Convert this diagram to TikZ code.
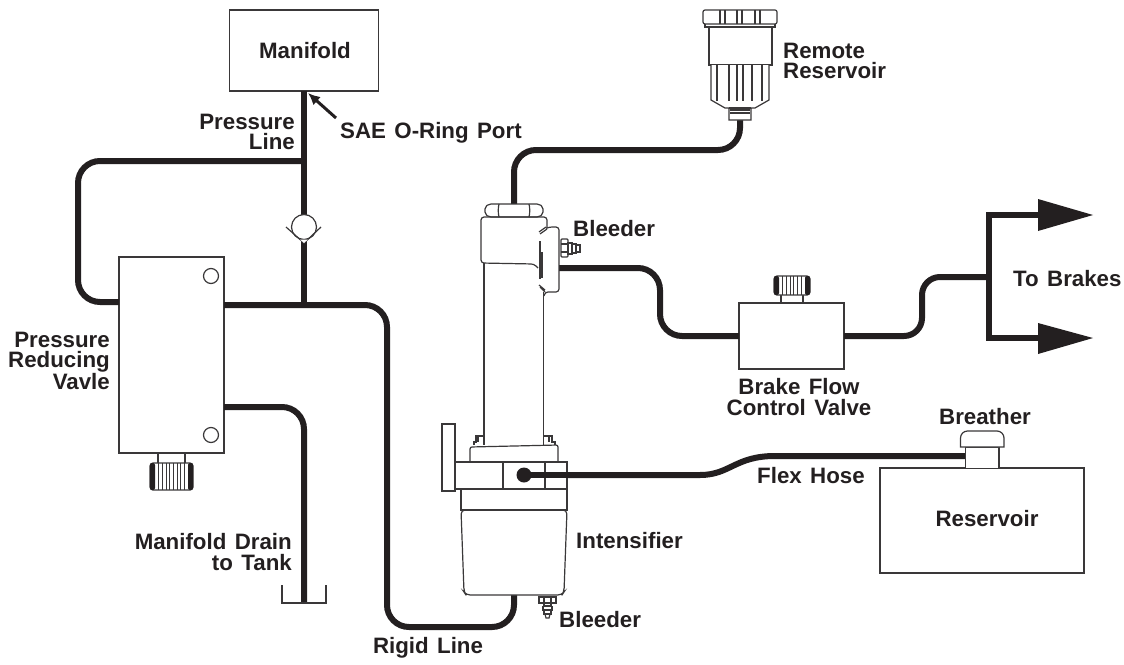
\documentclass[tikz,border=0pt]{standalone}
\usepackage{fontspec}
\setmainfont[WordSpace=1.35]{Liberation Sans}
\usetikzlibrary{arrows.meta}
\definecolor{ink}{HTML}{231F20}
\definecolor{thin}{HTML}{3A3839}
\tikzset{
  part/.style={draw=thin,line width=1.3pt,fill=white,inner sep=0pt,rectangle},
  thinl/.style={draw=thin,line width=1.2pt},
  pipe/.style={draw=ink,line width=6pt,line cap=butt,line join=miter},
  lab/.style={font=\fontsize{22.3}{20.5}\selectfont\bfseries,text=ink,inner sep=0pt},
  headarrow/.style={fill=ink,draw=none},
}
\newcommand{\knurl}[5]{% x0 x1 y0 y1 number of ribs
  \draw[thinl,rounded corners=3pt,fill=white] (#1,#3) rectangle (#2,#4);
  \fill[ink,rounded corners=2pt] (#1,#3) rectangle ({#1+5},#4);
  \fill[ink,rounded corners=2pt] ({#2-5},#3) rectangle (#2,#4);
  \foreach \k in {1,...,#5}{
    \draw[draw=thin,line width=1pt] ({#1+5+(#2-#1-10)*\k/(#5+1)},#3) -- ({#1+5+(#2-#1-10)*\k/(#5+1)},#4);
  }
}
\begin{document}
\begin{tikzpicture}[x=1pt,y=-1pt]
\useasboundingbox (0,0) rectangle (1124,664);
% ---------- coordinates for pipe ends
\coordinate (mport) at (304,91);
\coordinate (jct) at (304,305);
\coordinate (jcl) at (304,161);
\coordinate (loopa) at (78,161);
\coordinate (loopb) at (78,302);
\coordinate (vL) at (119,302);
\coordinate (vR) at (224,305);
\coordinate (vD) at (224,407);
\coordinate (rigA) at (387,305);
\coordinate (rigB) at (387,627);
\coordinate (rigC) at (514,627);
\coordinate (rigD) at (514,595);
\coordinate (drA) at (304,407);
\coordinate (drB) at (304,603);
\coordinate (topA) at (514,204);
\coordinate (topB) at (514,150);
\coordinate (topC) at (740,150);
\coordinate (topD) at (740,120);
\coordinate (blA) at (559,268);
\coordinate (blB) at (660,268);
\coordinate (blC) at (660,336);
\coordinate (blD) at (739,336);
\coordinate (brA) at (844,336);
\coordinate (brB) at (922,336);
\coordinate (brC) at (922,277);
\coordinate (brD) at (989,277);
\coordinate (upA) at (989,215);
\coordinate (loA) at (989,338);
\coordinate (upH) at (1040,215);
\coordinate (loH) at (1040,338);
\coordinate (hoseA) at (524,475);
\coordinate (hoseB) at (966,456);
% ---------- boxes
\node[part,minimum width=148.5pt,minimum height=81pt] (manifold) at (304,50.5) {};
\node[part,minimum width=105pt,minimum height=196pt] (valve) at (171.5,355) {};
\node[part,minimum width=105pt,minimum height=66pt] (brake) at (791.5,336) {};
\node[part,minimum width=204pt,minimum height=105pt] (tank) at (982,520.5) {};
% ---------- pipes
\draw[pipe] (mport) -- (jct);
\draw[pipe,rounded corners=22pt] (jcl) -- (loopa) -- (loopb) -- (vL);
\draw[pipe,rounded corners=22pt] (vR) -- (rigA) -- (rigB) -- (rigC) -- (rigD);
\draw[pipe,rounded corners=22pt] (vD) -- (drA) -- (drB);
\draw[pipe,rounded corners=22pt] (topA) -- (topB) -- (topC) -- (topD);
\draw[pipe,rounded corners=22pt] (blA) -- (blB) -- (blC) -- (blD);
\draw[pipe,rounded corners=18pt] (brA) -- (brB) -- (brC) -- (brD);
\draw[pipe] (upH) -- (upA) -- (loA) -- (loH);
\fill[headarrow] (1038,199) -- (1093,215) -- (1038,231) -- cycle;
\fill[headarrow] (1038,323) -- (1093,338) -- (1038,354) -- cycle;
\draw[pipe] (hoseA) -- (700,475) .. controls (730,475) and (735,456) .. (775,456) -- (hoseB);
\fill[ink] (hoseA) circle (7.5);
% ---------- check valve
\filldraw[thinl,fill=white] (304,227) circle (12.5);
\draw[thinl] (286,227) -- (304,243) -- (321,227);
\fill[white] (300,239.5) -- (308,239.5) -- (304,243) -- cycle;
% ---------- valve details
\draw[thinl] (211,276) circle (7.5);
\draw[thinl] (211,435) circle (7.5);
\draw[thinl] (158,453) -- (158,463) (185,453) -- (185,463);
\knurl{150}{193}{463}{490}{8}
% ---------- brake valve knob
\draw[thinl] (781,295) -- (781,303) (803,295) -- (803,303);
\knurl{774}{810}{276}{295}{6}
% ---------- breather
\filldraw[thinl,fill=white] (965.5,468) -- (965.5,447) -- (999,447) -- (999,468);
\filldraw[thinl,fill=white] (960.5,447) [rounded corners=7pt] -- (960.5,431) -- (1004,431) [sharp corners] -- (1004,447) -- cycle;
% ---------- tank drain
\draw[thinl] (282,585) -- (282,603) -- (326,603) -- (326,585);
% ---------- remote reservoir
\draw[thinl,fill=white,rounded corners=2pt] (703,10) rectangle (777,24);
\draw[thinl] (720,10) -- (720,24) (725,10) -- (725,24) (737,10) -- (737,24) (742,10) -- (742,24) (755,10) -- (755,24) (760,10) -- (760,24);
\draw[thinl] (705,24) -- (705,27) -- (775,27) -- (775,24);
\draw[thinl,fill=white] (709,27) rectangle (772,65);
\draw[thinl,fill=white] (711,65) -- (711,100) -- (725,108) -- (729,108) -- (729,120) -- (751,120) -- (751,108) -- (755,108) -- (769,100) -- (769,65);
\foreach \xx in {717,729,737,743,752,762}{\draw[thinl] (\xx,65) -- (\xx,101);}
\draw[thinl] (729,108) -- (751,108);
\draw[draw=thin,line width=1.6pt] (730,110) -- (750,110) (730,113) -- (750,113);
% ---------- intensifier
\draw[thinl] (484,263) -- (484,445) (543.5,292) -- (543.5,445);
\draw[thinl,fill=white,rounded corners=2pt] (489,204) -- (485,207) -- (485,214) -- (489,217) -- (539,217) -- (543,214) -- (543,207) -- (539,204) -- cycle;
\draw[thinl] (499,204) .. controls (498,208) and (498,213) .. (499,217) (529,204) .. controls (530,208) and (530,213) .. (529,217);
\draw[thinl,rounded corners=3pt] (547,228) -- (547,217) -- (481,217) -- (481,263) -- (534,264) -- (538,268);
\draw[thinl,rounded corners=3pt] (547,228) -- (549,227) -- (559,227) -- (559,292) -- (545,292) -- (544,296);
\draw[thinl] (539,232) -- (546,227) (540,234) -- (547,229);
\draw[thinl] (539,285) -- (545,290) (540,287) -- (545,292);
\draw[thinl] (540,241) -- (540,279) (542,252) -- (542,278);
% side bleeder
\draw[thinl,rounded corners=1pt] (561,239) rectangle (568,257);
\draw[thinl] (561,244) -- (568,244) (561,252) -- (568,252);
\draw[thinl] (568,243) rectangle (572,254);
\draw[thinl] (572,244) rectangle (576,253);
\draw[thinl] (576,245) rectangle (580,252);
% bolts
\draw[thinl] (474,445) -- (474,442) -- (476,442) -- (476,436) -- (484,436) -- (484,445);
\draw[thinl] (544,436) -- (552,436) -- (552,442) -- (555,442) -- (555,445);
\draw[thinl] (478,436) -- (478,442) (549,436) -- (549,442);
% collar
\draw[thinl,rounded corners=2pt] (470,462) -- (470,447) -- (558,445) -- (558,462);
% ring & bowl
\draw[thinl,fill=white,rounded corners=4pt] (461,510) -- (464,592) -- (466,595) -- (562,595) -- (564,592) -- (567,510) -- cycle;
\draw[thinl] (461,489) rectangle (567,510);
\draw[thinl,fill=white] (455,462) rectangle (567,489);
\draw[thinl] (503,462) -- (503,489) (545,462) -- (545,489);
\draw[thinl,fill=white] (442,424) rectangle (455,491);
% redraw hose over clamp
\draw[pipe] (hoseA) -- (600,475);
\fill[ink] (hoseA) circle (7.5);
% bottom bleeder
\draw[thinl] (539,597) rectangle (556,603);
\draw[thinl] (544,597) -- (544,603) (551,597) -- (551,603);
\draw[thinl] (544,603) -- (544,606) -- (551,606) -- (551,603);
\draw[thinl] (543,606) -- (543,610) -- (552,610) -- (552,606);
\draw[thinl] (544,610) -- (544,614) -- (551,614) -- (551,610);
\draw[thinl] (545,614) -- (546,618) -- (549,618) -- (550,614);
% ---------- port arrow
\coordinate (portTip) at (308,93);
\coordinate (portTail) at (336,118);
\draw[draw=ink,line width=3pt,-{Latex[length=12pt,width=11pt]}] (portTail) -- (portTip);
% ---------- labels
\node[lab] (tManifold) at (305,51) {Manifold};
\node[lab,anchor=east,align=right] (tPressure) at (295,132) {Pressure\\Line};
\node[lab,anchor=west] (tSae) at (340,133) {SAE O-Ring Port};
\node[lab,anchor=east,align=right] (tPrv) at (110,361) {Pressure\\Reducing\\Vavle};
\node[lab,anchor=east,align=right] (tDrain) at (292,552) {Manifold Drain\\to Tank};
\node[lab] (tRigid) at (428,648) {Rigid Line};
\node[lab,anchor=west] (tInt) at (576,541) {Intensifier};
\node[lab,anchor=west] (tBl1) at (573,229) {Bleeder};
\node[lab,anchor=west] (tBl2) at (559,620) {Bleeder};
\node[lab,anchor=west,align=left] (tRemote) at (783,61) {Remote\\Reservoir};
\node[lab,anchor=west] (tBrakes) at (1013,279) {To Brakes};
\node[lab,align=center] (tBfc) at (799,397) {Brake Flow\\Control Valve};
\node[lab] (tBreather) at (985,417) {Breather};
\node[lab,anchor=west] (tFlex) at (757,476) {Flex Hose};
\node[lab] (tRes) at (987,519) {Reservoir};
\end{tikzpicture}
\end{document}
